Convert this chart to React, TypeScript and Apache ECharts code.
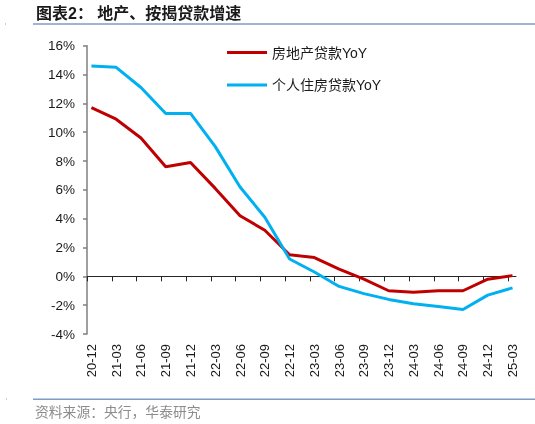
import { useEffect, useRef } from 'react'
import * as echarts from 'echarts'

const categories = [
  '20-12', '21-03', '21-06', '21-09', '21-12', '22-03', '22-06', '22-09', '22-12',
  '23-03', '23-06', '23-09', '23-12', '24-03', '24-06', '24-09', '24-12', '25-03',
]
const realEstateLoans = [11.7, 10.9, 9.6, 7.6, 7.9, 6.1, 4.2, 3.2, 1.5, 1.3, 0.5, -0.2, -1.0, -1.1, -1.0, -1.0, -0.2, 0.05]
const mortgageLoans = [14.6, 14.5, 13.1, 11.3, 11.3, 9.0, 6.2, 4.1, 1.2, 0.3, -0.7, -1.2, -1.6, -1.9, -2.1, -2.3, -1.3, -0.8]
const seriesNames = ['房地产贷款YoY', '个人住房贷款YoY']
const yTicks = { min: -4, max: 16, interval: 2 }

const FONT = '"Liberation Sans", Arial, "Noto Sans CJK SC", sans-serif'
// ticks sit a little before each data point, like the original date axis
const TICK_SHIFT = 0.178
const X_MIN = -TICK_SHIFT
const X_MAX = 17.14

export default function App() {
  const main = useRef<HTMLDivElement>(null)
  useEffect(() => {
    const chart = echarts.init(main.current, null, { renderer: 'svg' })
    const idx = categories.map((_, i) => i)
    const option = {
      animation: false,
      title: {
        text: '图表2： 地产、按揭贷款增速',
        left: 36,
        top: 5,
        padding: 0,
        textStyle: { fontFamily: FONT, fontSize: 16, fontWeight: 'bold', color: '#1a1a1a' },
      },
      legend: {
        orient: 'vertical',
        left: 227,
        top: 44.5,
        padding: 0,
        itemGap: 16.5,
        itemWidth: 40,
        itemHeight: 3,
        icon: 'rect',
        data: seriesNames,
        textStyle: { fontFamily: FONT, fontSize: 14, color: '#1a1a1a', lineHeight: 16 },
      },
      grid: { left: 87, right: 19, top: 45.7, bottom: 90, containLabel: false },
      xAxis: [
        {
          type: 'value',
          min: X_MIN,
          max: X_MAX,
          position: 'bottom',
          axisLine: { show: false, onZero: false },
          axisTick: { show: false },
          splitLine: { show: false },
          axisLabel: {
            customValues: idx,
            formatter: (v: number) => categories[Math.round(v)],
            rotate: 90,
            margin: 10,
            fontFamily: FONT,
            fontSize: 13,
            color: '#1a1a1a',
          },
        },
        {
          type: 'value',
          min: X_MIN,
          max: X_MAX,
          position: 'bottom',
          axisLine: { show: true, onZero: true, lineStyle: { color: '#262626', width: 1 } },
          axisTick: {
            show: true,
            length: 5,
            customValues: idx.map((i) => i - TICK_SHIFT),
            lineStyle: { color: '#262626', width: 1 },
          },
          axisLabel: { show: false },
          splitLine: { show: false },
        },
      ],
      yAxis: {
        type: 'value',
        min: yTicks.min,
        max: yTicks.max,
        interval: yTicks.interval,
        axisLine: { show: true, onZero: false, lineStyle: { color: '#7f7f7f', width: 1.5 } },
        axisTick: { show: true, length: 4, lineStyle: { color: '#7f7f7f', width: 1.5 } },
        splitLine: { show: false },
        axisLabel: {
          formatter: '{value}%',
          margin: 12,
          fontFamily: FONT,
          fontSize: 13.5,
          color: '#1a1a1a',
        },
      },
      series: [
        {
          name: seriesNames[0],
          type: 'line',
          xAxisIndex: 0,
          data: realEstateLoans.map((v, i) => [i, v]),
          symbol: 'none',
          color: '#C00000',
          lineStyle: { color: '#C00000', width: 3 },
        },
        {
          name: seriesNames[1],
          type: 'line',
          xAxisIndex: 0,
          data: mortgageLoans.map((v, i) => [i, v]),
          symbol: 'none',
          color: '#00B0F0',
          lineStyle: { color: '#00B0F0', width: 3 },
        },
      ],
      graphic: [
        {
          type: 'line',
          shape: { x1: 33, y1: 24, x2: 535, y2: 24 },
          style: { stroke: '#7f9cc4', lineWidth: 1.5 },
        },
        {
          type: 'line',
          shape: { x1: 33, y1: 399.3, x2: 535, y2: 399.3 },
          style: { stroke: '#7f9cc4', lineWidth: 1.5 },
        },
        { type: 'rect', shape: { x: 5, y: 23.5, width: 1, height: 1 }, style: { fill: '#7f9cc4' } },
        { type: 'rect', shape: { x: 6, y: 398.5, width: 1, height: 1 }, style: { fill: '#7f9cc4' } },
        {
          type: 'text',
          x: 35,
          y: 412.7,
          style: {
            text: '资料来源：央行，华泰研究',
            fontFamily: FONT,
            fontSize: 13.8,
            fill: '#8c8c8c',
            verticalAlign: 'middle',
          },
        },
      ],
    }
    chart.setOption(option)
    return () => {
      chart.dispose()
    }
  }, [])
  return (
    <div
      ref={main}
      style={{ position: 'fixed', left: 0, top: 0, width: '535px', height: '424px' }}
    ></div>
  )
}
